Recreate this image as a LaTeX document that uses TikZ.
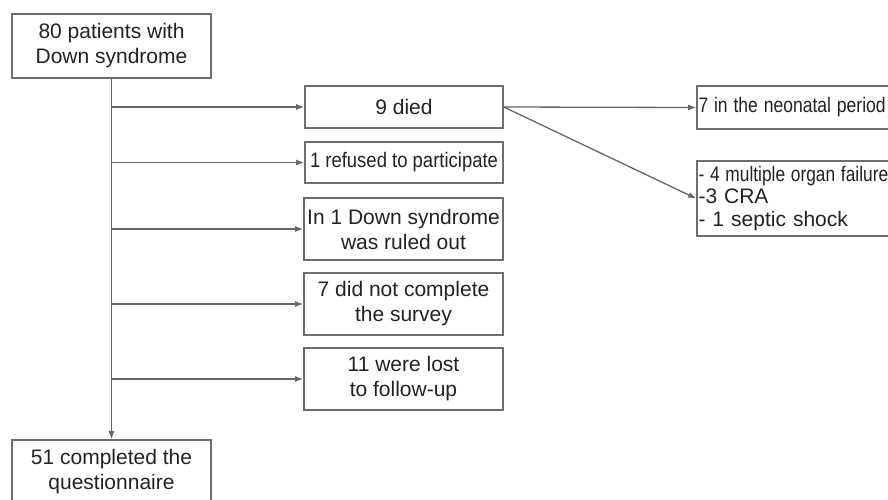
\documentclass[tikz,border=0pt]{standalone}
\usepackage{fontspec}
\setmainfont{Liberation Sans}
\usetikzlibrary{arrows.meta}
\definecolor{linec}{HTML}{666666}
\definecolor{boxc}{HTML}{6E6E6E}
\definecolor{txtc}{HTML}{222222}
\begin{document}
\begin{tikzpicture}[x=1pt,y=-1pt,
  box/.style={draw=boxc,line width=1.6pt,rectangle,inner sep=0pt,align=center,
    font=\fontsize{21}{25}\selectfont,text=txtc},
  arr/.style={draw=linec,line width=1.3pt,-{Latex[length=8pt,width=6pt]}}]
\useasboundingbox (0,0) rectangle (888,499);
\node[box,minimum width=199pt,minimum height=64pt] (top) at (111.5,46) {80 patients with\\Down syndrome};
\node[box,minimum width=199pt,minimum height=64pt] (bot) at (111.5,472) {51 completed the\\questionnaire};
\node[box,minimum width=198pt,minimum height=42pt] (b1) at (404,107) {9 died};
\node[box,minimum width=198pt,minimum height=41pt] (b2) at (404,162.5) {\scalebox{0.88}[1]{1 refused to participate}};
\node[box,minimum width=199pt,minimum height=62pt] (b3) at (403.5,229) {In 1 Down syndrome\\was ruled out};
\node[box,minimum width=199pt,minimum height=62pt] (b4) at (403.5,304) {7 did not complete\\the survey};
\node[box,minimum width=199pt,minimum height=62pt] (b5) at (403.5,379) {11 were lost\\to follow-up};
\node[box,minimum width=195pt,minimum height=43pt,align=left,text width=192pt] (r1) at (794.5,107.5) {\scalebox{0.835}[1]{7 in the neonatal period}};
\node[box,minimum width=195pt,minimum height=75pt,align=left,text width=192pt,
  font=\fontsize{21}{22.5}\selectfont] (r2) at (794.5,198.5) {\scalebox{0.825}[1]{- 4 multiple organ failure}\\-3 CRA\\- 1 septic shock};
\draw[arr] (top.south) -- (bot.north);
\foreach \b in {b1,b2,b3,b4,b5}{
  \draw[arr] (top.south |- \b.west) -- (\b.west);
}
\draw[arr] (b1.east) -- (r1.west);
\draw[arr] (b1.east) -- (r2.west);
\end{tikzpicture}
\end{document}
